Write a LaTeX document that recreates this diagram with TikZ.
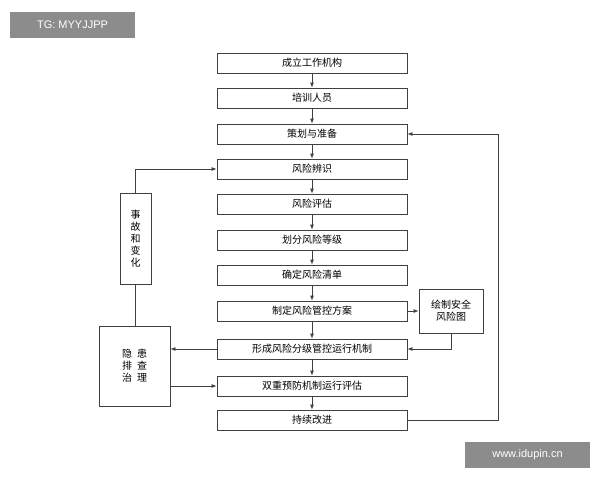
\documentclass[tikz,border=0pt]{standalone}
\usepackage{fontspec}
\setmainfont{Liberation Sans}
\newfontfamily\cjk{Noto Sans CJK SC}
\usetikzlibrary{arrows.meta}
\begin{document}
\begin{tikzpicture}[x=1pt,y=-1pt,
 box/.style={draw=black!75,line width=0.8pt,minimum width=190pt,minimum height=20pt,inner sep=0pt,font=\cjk\fontsize{10}{12}\selectfont},
 side/.style={draw=black!75,line width=0.8pt,inner sep=0pt,font=\cjk\fontsize{10}{12}\selectfont,align=center},
 ar/.style={draw=black!75,line width=0.8pt,-{Latex[length=5pt,width=4pt]}},
 ln/.style={draw=black!75,line width=0.8pt},
 wm/.style={fill=black!45,text=white,font=\fontsize{11}{13}\selectfont,inner sep=0pt,minimum height=26pt,minimum width=125pt}]
\useasboundingbox (0,0) rectangle (600,480);
\fill[white] (0,0) rectangle (600,480);
\node[box] (a) at (312,63) {成立工作机构};
\node[box] (b) at (312,98) {培训人员};
\node[box] (c) at (312,134) {策划与准备};
\node[box] (d) at (312,169) {风险辨识};
\node[box] (e) at (312,204) {风险评估};
\node[box] (f) at (312,240) {划分风险等级};
\node[box] (g) at (312,275) {确定风险清单};
\node[box] (h) at (312,311) {制定风险管控方案};
\node[box] (i) at (312,349) {形成风险分级管控运行机制};
\node[box] (j) at (312,386) {双重预防机制运行评估};
\node[box] (k) at (312,420) {持续改进};
\node[side,minimum width=31pt,minimum height=91pt] (s) at (135.5,238.5) {事\\故\\和\\变\\化};
\node[side,minimum width=71pt,minimum height=80pt] (y) at (134.5,366) {隐\enspace 患\\排\enspace 查\\治\enspace 理};
\node[side,minimum width=64pt,minimum height=44pt] (m) at (451,311) {绘制安全\\风险图};
\foreach \p/\q in {a/b,b/c,c/d,d/e,e/f,f/g,g/h,h/i,i/j,j/k} \draw[ar] (\p) -- (\q);
\draw[ar] (s.north) |- (d.west);
\draw[ln] (y.north -| s.south) -- (s.south);
\draw[ar] (i.west) -- (y.east |- i.west);
\draw[ar] (y.east |- j.west) -- (j.west);
\draw[ar] (h.east) -- (m.west);
\draw[ar] (m.south) |- (i.east);
\coordinate (r) at (498,420);
\draw[ar] (k.east) -- (r) |- (c.east);
\node[wm] (w1) at (72.5,25) {TG: MYYJJPP};
\node[wm] (w2) at (527.5,455) {www.idupin.cn};
\end{tikzpicture}
\end{document}
